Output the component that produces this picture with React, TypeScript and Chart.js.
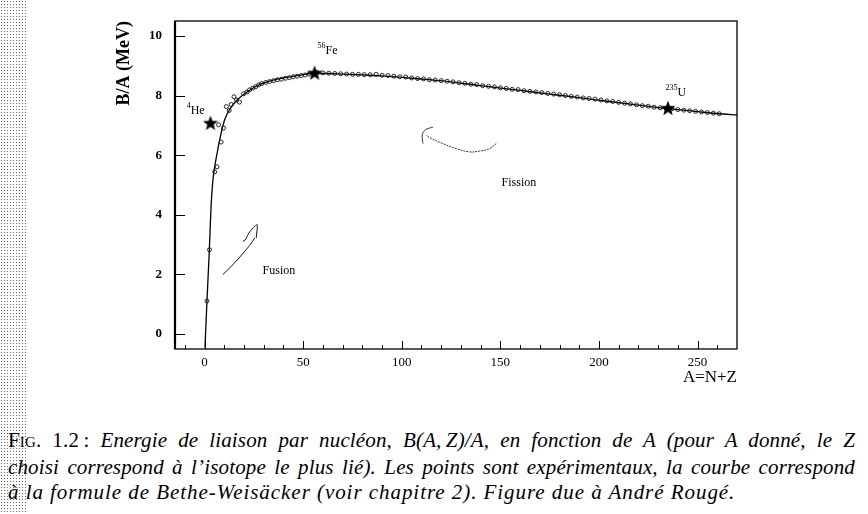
import React, { useEffect, useRef } from 'react';
import { Chart, registerables } from 'chart.js';
Chart.register(...registerables);

// Bethe-Weizsäcker curve
const curveA = [0.2, 1.2, 2.4, 3.3, 4.2, 5.1, 6.3, 7.6, 10.1, 13.5, 16.5, 20.3, 24, 28.7, 35, 41.4, 48, 54.8, 62, 70, 80, 90, 100, 112, 124, 140, 160, 175, 190, 205, 220, 235, 250, 261, 270];
const curveB = [-0.45, 1.1, 2.8, 4.3, 5.15, 5.6, 6.05, 6.5, 7.17, 7.61, 7.85, 8.06, 8.23, 8.39, 8.52, 8.61, 8.68, 8.74, 8.74, 8.72, 8.69, 8.66, 8.61, 8.54, 8.47, 8.33, 8.17, 8.05, 7.93, 7.8, 7.68, 7.56, 7.46, 7.39, 7.35];

// experimental points
const expA = [1.2, 2.5, 5.1, 6.3, 7.1, 8.4, 9.6, 11, 12.5, 13.5, 14.9, 16.2, 17.7, 19.8, 21.5, 22.8, 24.5, 26, 27.5, 29, 31, 33, 35, 37, 39, 41, 43, 45, 47, 49, 51, 53,
  57, 60, 63, 66, 69, 72, 75, 78, 81, 84, 87, 90, 93, 96, 99, 102, 105, 108, 111, 114, 117, 120, 123, 126, 129, 132, 135, 138, 141, 144, 147, 150, 153, 156, 159, 162, 165, 168, 171, 174, 177, 180, 183, 186, 189, 192, 195, 198, 201, 204, 207, 210, 213, 216, 219, 222, 225, 228, 231, 234, 237, 240, 243, 246, 249, 252, 255, 258, 261];
const expB = [1.11, 2.83, 5.44, 5.61, 7.02, 6.44, 6.91, 7.63, 7.5, 7.7, 7.96, 7.85, 7.78, 8.06, 8.12, 8.19, 8.25, 8.3, 8.36, 8.4, 8.44, 8.47, 8.5, 8.53, 8.55, 8.58, 8.6, 8.63, 8.65, 8.67, 8.69, 8.72,
  8.77, 8.76, 8.75, 8.74, 8.73, 8.72, 8.71, 8.71, 8.7, 8.7, 8.71, 8.68, 8.67, 8.65, 8.63, 8.62, 8.59, 8.57, 8.56, 8.53, 8.52, 8.5, 8.48, 8.46, 8.43, 8.41, 8.38, 8.37, 8.33, 8.31, 8.29, 8.26, 8.24, 8.21, 8.2, 8.16, 8.14, 8.12, 8.1, 8.07, 8.05, 8.03, 8.0, 7.97, 7.95, 7.92, 7.9, 7.88, 7.85, 7.82, 7.8, 7.77, 7.74, 7.72, 7.69, 7.66, 7.64, 7.61, 7.59, 7.57, 7.55, 7.53, 7.51, 7.49, 7.47, 7.45, 7.43, 7.41, 7.39];

// highlighted nuclei (stars)
const starA = [3.0, 55.8, 235];
const starB = [7.06, 8.74, 7.56];
const starElem = ['He', 'Fe', 'U'];
const starMass = ['4', '56', '235'];
const starLabelA = [-9.1, 57.3, 233.8];
const starLabelB = [7.37, 9.4, 7.97];

// region annotations
const regionText = ['Fusion', 'Fission'];
const regionA = [29.4, 150.6];
const regionB = [2.0, 4.97];

// hand-drawn arrows
const fusionShaftA = [9.3, 14.4, 19.4, 22.8, 25.4];
const fusionShaftB = [2.0, 2.33, 2.7, 2.97, 3.22];
const fusionHeadA = [19.4, 20.5, 22.5, 24.5, 26.7, 26.2];
const fusionHeadB = [3.11, 3.15, 3.39, 3.56, 3.67, 3.22];
const fissionShaftA = [147.9, 144.5, 139.5, 134.4, 127.6, 120.8, 115, 112.4];
const fissionShaftB = [6.39, 6.22, 6.14, 6.11, 6.22, 6.39, 6.56, 6.67];
const fissionHeadA = [110.7, 110.4, 111.6, 114.1, 115.8];
const fissionHeadB = [6.39, 6.67, 6.83, 6.91, 6.94];

// axes
const xTicks = [0, 50, 100, 150, 200, 250];
const xMinorTicks = [-10, 10, 20, 30, 40, 60, 70, 80, 90, 110, 120, 130, 140, 160, 170, 180, 190, 210, 220, 230, 240, 260];
const yTicks = [0, 2, 4, 6, 8, 10];

const SERIF = '"Liberation Serif", "Times New Roman", serif';

const pts = (a: number[], b: number[]) => a.map((v, i) => ({ x: v, y: b[i] }));

function makeStar(r: number) {
  const c = document.createElement('canvas');
  c.width = c.height = 2 * r + 2;
  const g = c.getContext('2d')!;
  const cx = r + 1, cy = r + 1;
  g.beginPath();
  for (let i = 0; i < 10; i++) {
    const ang = -Math.PI / 2 + (i * Math.PI) / 5;
    const rad = i % 2 ? r * 0.42 : r;
    g.lineTo(cx + rad * Math.cos(ang), cy + rad * Math.sin(ang));
  }
  g.closePath();
  g.fillStyle = '#000';
  g.fill();
  return c;
}

const framePlugin = {
  id: 'frame',
  afterDraw(chart: any) {
    const { ctx, chartArea: ca, scales } = chart;
    const x = scales.x, y = scales.y;
    ctx.save();
    ctx.strokeStyle = '#000';
    ctx.lineWidth = 1.3;
    ctx.strokeRect(ca.left, ca.top, ca.right - ca.left, ca.bottom - ca.top);
    ctx.lineWidth = 2.2;
    ctx.beginPath();
    ctx.moveTo(ca.left, ca.top);
    ctx.lineTo(ca.left, ca.bottom);
    ctx.stroke();
    ctx.lineWidth = 1;
    ctx.beginPath();
    xTicks.forEach(v => {
      const px = Math.round(x.getPixelForValue(v)) + 0.5;
      ctx.moveTo(px, ca.bottom);
      ctx.lineTo(px, ca.bottom - 8);
    });
    xMinorTicks.forEach(v => {
      const px = Math.round(x.getPixelForValue(v)) + 0.5;
      ctx.moveTo(px, ca.bottom);
      ctx.lineTo(px, ca.bottom - 4);
    });
    yTicks.forEach(v => {
      const py = Math.round(y.getPixelForValue(v)) + 0.5;
      ctx.moveTo(ca.left, py);
      ctx.lineTo(ca.left + 10, py);
    });
    ctx.stroke();

    // star labels with superscript mass numbers
    ctx.fillStyle = '#000';
    ctx.textBaseline = 'alphabetic';
    ctx.textAlign = 'left';
    starElem.forEach((el, i) => {
      const px = x.getPixelForValue(starLabelA[i]);
      const py = y.getPixelForValue(starLabelB[i]);
      ctx.font = `8px ${SERIF}`;
      ctx.fillText(starMass[i], px, py - 6);
      const w = ctx.measureText(starMass[i]).width;
      ctx.font = `12px ${SERIF}`;
      ctx.fillText(el, px + w, py);
    });
    ctx.font = `12px ${SERIF}`;
    regionText.forEach((t, i) => {
      ctx.fillText(t, x.getPixelForValue(regionA[i]), y.getPixelForValue(regionB[i]));
    });
    ctx.restore();
  },
};

export default function App() {
  const ref = useRef<HTMLCanvasElement>(null);
  useEffect(() => {
    document.body.style.margin = '0';
    const star = makeStar(8);
    const chart = new Chart(ref.current!, {
      type: 'scatter',
      data: {
        datasets: [
          { data: pts(starA, starB), pointStyle: star as any, pointRadius: 8, showLine: false },
          { data: pts(expA, expB), pointStyle: 'circle', pointRadius: 2, borderWidth: 0.9, borderColor: '#111', backgroundColor: 'rgba(255,255,255,0)', showLine: false },
          { data: pts(curveA, curveB), showLine: true, pointRadius: 0, borderColor: '#000', borderWidth: 1.3, cubicInterpolationMode: 'monotone' },
          { data: pts(fusionShaftA, fusionShaftB), showLine: true, pointRadius: 0, borderColor: '#111', borderWidth: 1, tension: 0.3 },
          { data: pts(fusionHeadA, fusionHeadB), showLine: true, pointRadius: 0, borderColor: '#111', borderWidth: 1, tension: 0.2 },
          { data: pts(fissionShaftA, fissionShaftB), showLine: true, pointRadius: 0, borderColor: '#333', borderWidth: 1, borderDash: [2, 1], tension: 0.4 },
          { data: pts(fissionHeadA, fissionHeadB), showLine: true, pointRadius: 0, borderColor: '#333', borderWidth: 1, tension: 0.4 },
        ] as any,
      },
      options: {
        animation: false,
        responsive: false,
        maintainAspectRatio: false,
        layout: { padding: { top: 21, right: 131, left: 0, bottom: 0 } },
        plugins: { legend: { display: false }, tooltip: { enabled: false } },
        elements: { line: { fill: false } },
        scales: {
          x: {
            type: 'linear',
            min: -15,
            max: 270,
            afterBuildTicks: (s: any) => { s.ticks = xTicks.map(v => ({ value: v })); },
            afterFit: (s: any) => { s.height = 51; },
            grid: { display: false, drawTicks: false },
            border: { display: false },
            ticks: { padding: 6, color: '#000', font: { family: SERIF, size: 13 }, maxRotation: 0, autoSkip: false },
            title: { display: true, text: 'A=N+Z', align: 'end', color: '#000', font: { family: SERIF, size: 17 }, padding: { top: 0, bottom: 12 } },
          },
          y: {
            type: 'linear',
            min: -0.5,
            max: 10.5,
            afterBuildTicks: (s: any) => { s.ticks = yTicks.map(v => ({ value: v })); },
            afterFit: (s: any) => { s.width = 175; },
            grid: { display: false, drawTicks: false },
            border: { display: false },
            ticks: { padding: 13, color: '#000', font: { family: SERIF, size: 13, weight: 'bold' } },
            title: { display: true, text: 'B/A (MeV)', align: 'end', color: '#000', font: { family: SERIF, size: 18, weight: 'bold' }, padding: { top: 114, bottom: 0 } },
          },
        },
      } as any,
      plugins: [framePlugin],
    });
    return () => chart.destroy();
  }, []);

  const capStyle: React.CSSProperties = {
    position: 'absolute', left: 8, width: 847, fontFamily: SERIF, fontSize: 21,
    fontStyle: 'italic', whiteSpace: 'nowrap', color: '#000', lineHeight: '24px',
  };
  return (
    <div style={{ position: 'fixed', left: 0, top: 0, width: 868, height: 514, background: '#fff', overflow: 'hidden' }}>
      <div style={{ position: 'absolute', left: 0, top: 0, width: 28, height: 514, backgroundImage: 'radial-gradient(circle, #666 0.6px, transparent 0.9px)', backgroundSize: '3px 3px' }} />
      <canvas ref={ref} width={868} height={400} style={{ position: 'absolute', left: 0, top: 0 }} />
      <div style={{ ...capStyle, top: 428, letterSpacing: '0.15px', textAlign: 'justify', textAlignLast: 'justify' }}>
        <span style={{ fontStyle: 'normal', fontVariant: 'small-caps' }}>Fig.</span>
        <span style={{ fontStyle: 'normal' }}> 1.2&thinsp;:</span> Energie de liaison par nucléon, B(A,&thinsp;Z)/A, en fonction de A (pour A donné, le Z
      </div>
      <div style={{ ...capStyle, top: 455, letterSpacing: '0.15px', textAlign: 'justify', textAlignLast: 'justify' }}>
        choisi correspond à l’isotope le plus lié). Les points sont expérimentaux, la courbe correspond
      </div>
      <div style={{ ...capStyle, top: 480, letterSpacing: '0.95px' }}>
        à la formule de Bethe-Weisäcker (voir chapitre 2). Figure due à André Rougé.
      </div>
    </div>
  );
}
